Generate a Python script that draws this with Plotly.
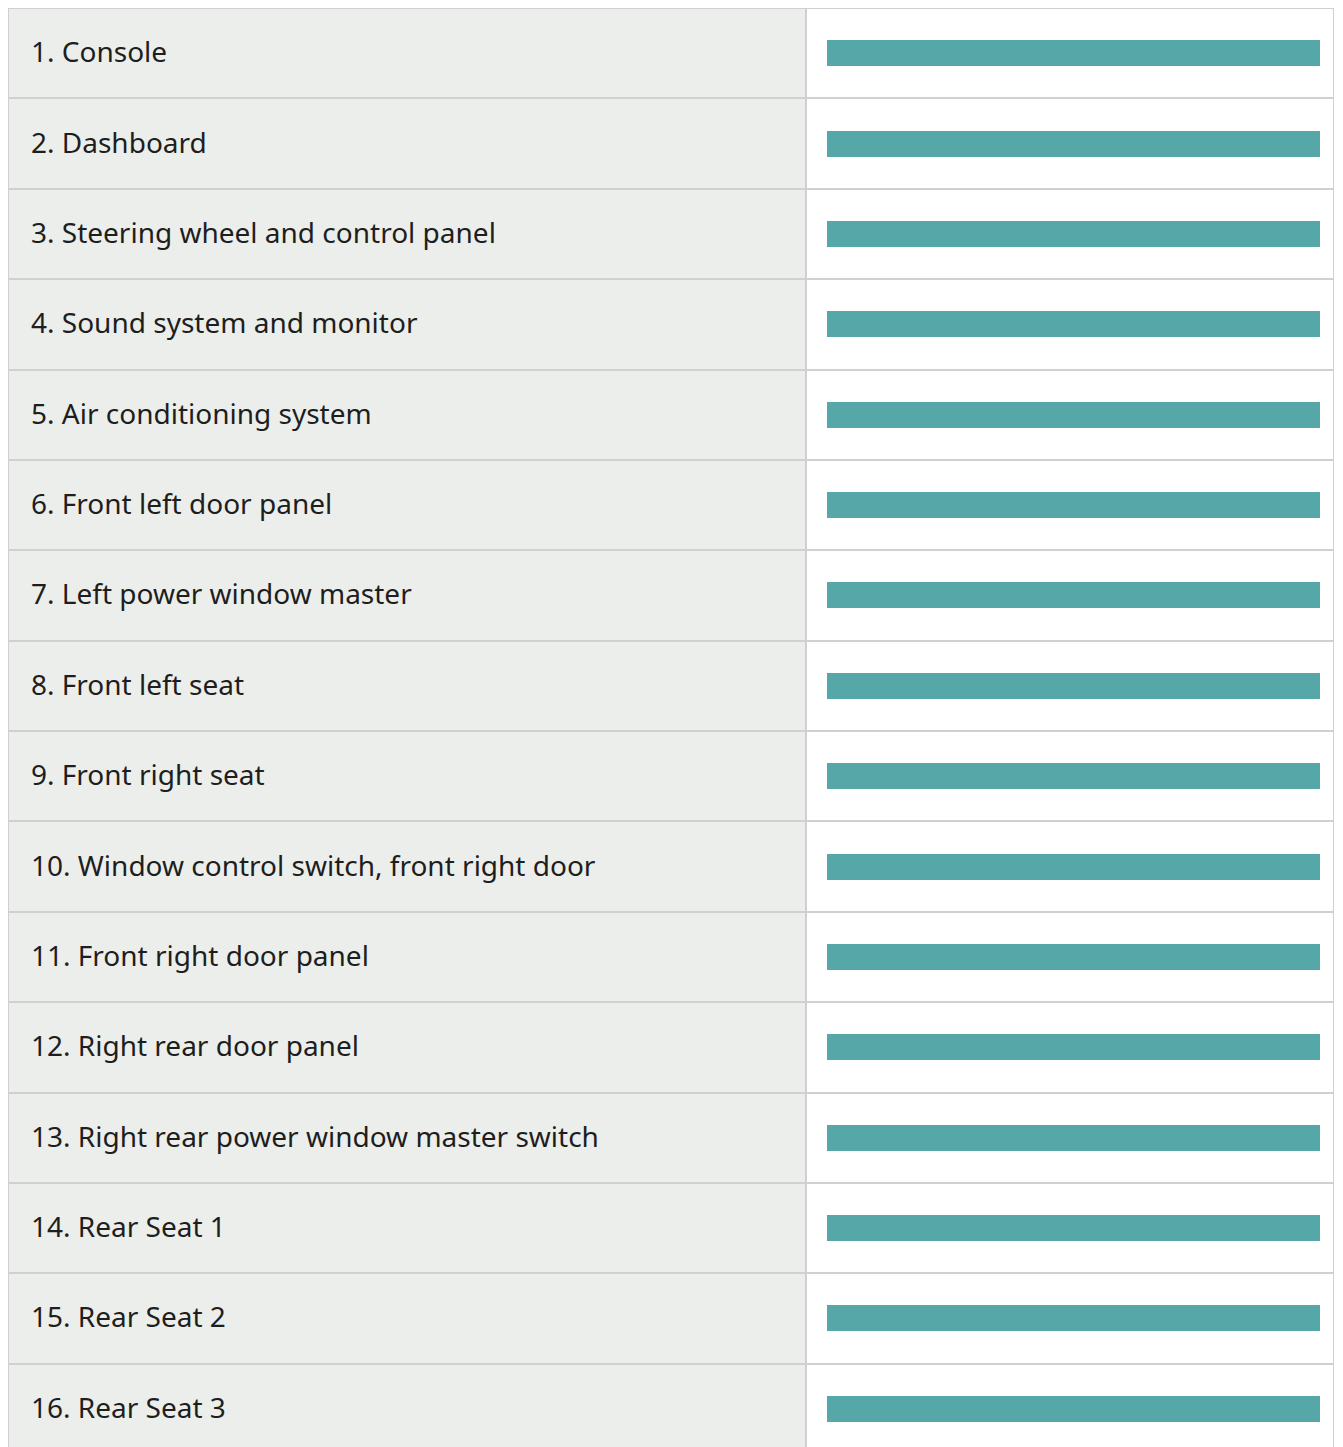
import plotly.graph_objects as go

labels = [
    "1. Console",
    "2. Dashboard",
    "3. Steering wheel and control panel",
    "4. Sound system and monitor",
    "5. Air conditioning system",
    "6. Front left door panel",
    "7. Left power window master",
    "8. Front left seat",
    "9. Front right seat",
    "10. Window control switch, front right door",
    "11. Front right door panel",
    "12. Right rear door panel",
    "13. Right rear power window master switch",
    "14. Rear Seat 1",
    "15. Rear Seat 2",
    "16. Rear Seat 3",
]
values = [100, 100, 100, 100, 100, 100, 100, 100, 100, 100, 100, 100, 100, 100, 100, 100]

rows = list(range(len(labels)))
GRAY = "#eceeeb"
BORDER = "#d0d0d0"
TEAL = "#55a8a7"

# page body has an 8px margin; figure origin sits at (8, 8); visible width ends at ~1335
W, H = 1327, 1446
MR = 1
plot_w = W - MR
left_w = 798
split = left_w / plot_w
row_px = H / len(labels)
right_w = plot_w - left_w

fig = go.Figure()

# left label cells
fig.add_trace(go.Bar(
    y=rows, x=[1] * len(rows), orientation="h", width=1,
    marker=dict(color=GRAY, line=dict(color=BORDER, width=2)),
    xaxis="x", yaxis="y", hoverinfo="skip", showlegend=False,
))
# right cells
fig.add_trace(go.Bar(
    y=rows, x=[1] * len(rows), orientation="h", width=1,
    marker=dict(color="white", line=dict(color=BORDER, width=2)),
    xaxis="x3", yaxis="y", hoverinfo="skip", showlegend=False,
))
# teal bars
fig.add_trace(go.Bar(
    y=rows, x=values, orientation="h", width=26 / row_px,
    marker=dict(color=TEAL, line=dict(width=0)),
    xaxis="x2", yaxis="y", hoverinfo="skip", showlegend=False,
))

for i, lab in enumerate(labels):
    fig.add_annotation(
        x=21 / left_w, y=i, xref="x", yref="y", yshift=2,
        text=lab, showarrow=False, xanchor="left", yanchor="middle",
        font=dict(family="Noto Sans", size=28, color="#1e1e1e"),
    )

bar_px = 493
pad_l = 21
pad_r = right_w - pad_l - bar_px
lo = -pad_l / bar_px * 100
hi = 100 + pad_r / bar_px * 100

fig.update_layout(
    width=W, height=H,
    margin=dict(l=0, r=MR, t=0, b=0, pad=0),
    paper_bgcolor="white", plot_bgcolor="white",
    bargap=0, barmode="overlay",
    xaxis=dict(domain=[0, split], range=[0, 1], visible=False, fixedrange=True),
    xaxis3=dict(domain=[split, 1], range=[0, 1], visible=False, fixedrange=True),
    xaxis2=dict(overlaying="x3", range=[lo, hi], visible=False, fixedrange=True),
    yaxis=dict(range=[len(labels) - 0.5, -0.5], visible=False, fixedrange=True),
)

fig.write_html("out.html")
